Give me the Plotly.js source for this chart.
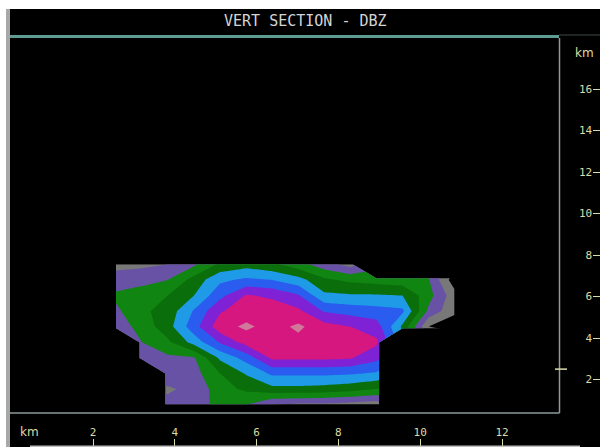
<!DOCTYPE html>
<html>
<head>
<meta charset="utf-8">
<script src="https://cdn.plot.ly/plotly-3.0.1.min.js"></script>
<style>
html,body{margin:0;padding:0;background:#000;}
#chart{width:600px;height:447px;}
</style>
</head>
<body>
<div id="chart"></div>
<script>
// Horizontal grid positions (km) and heights (km) of the vertical section
const xKm = [2.56, 3.20, 3.83, 4.47, 5.11, 5.75, 6.38, 7.02, 7.66, 8.29, 8.93, 9.57, 10.20, 10.84];
const yKm = [0.79, 1.54, 2.29, 3.04, 3.79, 4.55, 5.30, 6.05, 6.80, 7.55];

// Reflectivity (dBZ) per height row, null = no data
const dbz_h0_79 = [null, null, 11, 12, 17, 15, 10, 9, 9, 8, 7, null, null, null];
const dbz_h1_54 = [null, null, 9.5, 11, 18, 21, 23.5, 23.5, 23, 22, 20, null, null, null];
const dbz_h2_29 = [null, null, 12, 13, 20, 25.5, 31, 31, 31, 30.5, 29.5, null, null, null];
const dbz_h3_04 = [null, 12, 14, 14.5, 26, 32, 41, 41, 41, 40.5, 36.5, null, null, null];
const dbz_h3_79 = [null, 15, 19, 27, 35.5, 42, 43.5, 43.5, 43, 42, 41, null, null, null];
const dbz_h4_55 = [12, 17, 23, 33, 43, 46, 43, 46, 42, 40, 37.5, 24, 5, 2];
const dbz_h5_30 = [14, 19, 22, 30.5, 39.5, 42.5, 43, 41, 34.5, 33, 32, 31, 14, 6];
const dbz_h6_05 = [16, 18, 20, 25, 33.5, 40.5, 39, 35.5, 26, 25.5, 25.5, 25, 17, 7];
const dbz_h6_80 = [12, 13, 15, 22, 29, 31, 30, 27, 21, 19, 18, 17, 15.5, 2];
const dbz_h7_55 = [8.7, 9, 10, 14, 21, 23, 21, 17, 12, 8, null, null, null, null];

// Contour levels and band colours (below first level -> black)
const dbzLevels = [5, 10, 15, 20, 25, 30, 35, 40, 45];
const bandColors = ['#000000', '#787878', '#6752a6', '#118511', '#0a6f0a',
                    '#1f9ae6', '#2b5cf0', '#7f22d6', '#d5177f', '#d0789a'];

// Axis ticks
const xTickVals = [2, 4, 6, 8, 10, 12];
const yTickVals = [2, 4, 6, 8, 10, 12, 14, 16];

const z = [dbz_h0_79, dbz_h1_54, dbz_h2_29, dbz_h3_04, dbz_h3_79,
           dbz_h4_55, dbz_h5_30, dbz_h6_05, dbz_h6_80, dbz_h7_55];

// mask cells that touch a missing point
const maskZ = [];
for (let j = 0; j < yKm.length - 1; j++) {
  const row = [];
  for (let i = 0; i < xKm.length - 1; i++) {
    const miss = z[j][i] === null || z[j][i+1] === null || z[j+1][i] === null || z[j+1][i+1] === null;
    row.push(miss ? 1 : null);
  }
  maskZ.push(row);
}

const nb = bandColors.length;
const colorscale = bandColors.map((c, k) => [k / (nb - 1), c]);
const step = dbzLevels[1] - dbzLevels[0];

const contour = {
  type: 'contour',
  x: xKm, y: yKm, z: z,
  contours: {start: dbzLevels[0], end: dbzLevels[dbzLevels.length - 1], size: step, coloring: 'fill', showlines: false},
  line: {width: 0, smoothing: 0},
  colorscale: colorscale,
  showscale: false,
  hoverinfo: 'skip'
};
const mask = {
  type: 'heatmap',
  x: xKm, y: yKm, z: maskZ,
  colorscale: [[0, '#000000'], [1, '#000000']],
  zmin: 0, zmax: 1, showscale: false, hoverinfo: 'skip', zsmooth: false
};

const W = 600, H = 447;
const PX = v => v / W;
const PY = v => 1 - v / H;
const tickCol = '#dcdca6';

const layout = {
  width: W, height: H,
  margin: {l: 0, r: 0, t: 0, b: 0, pad: 0},
  paper_bgcolor: '#000000', plot_bgcolor: '#000000',
  showlegend: false,
  xaxis: {
    range: [-0.274, 14.396],
    tickvals: xTickVals, ticktext: xTickVals.map(String),
    ticks: 'inside', ticklen: 8, tickwidth: 1, tickcolor: tickCol,
    ticklabelposition: 'inside',
    tickfont: {family: 'DejaVu Sans Mono', size: 11, color: tickCol},
    showgrid: false, zeroline: false, showline: false, fixedrange: true
  },
  yaxis: {
    range: [-1.253, 20.289], side: 'right',
    tickvals: yTickVals, ticktext: yTickVals.map(String),
    ticks: 'inside', ticklen: 7, tickwidth: 1, tickcolor: tickCol,
    ticklabelposition: 'inside',
    tickfont: {family: 'DejaVu Sans Mono', size: 11, color: tickCol},
    showgrid: false, zeroline: false, showline: false, fixedrange: true
  },
  shapes: [
    {type: 'rect', xref: 'paper', yref: 'paper', x0: 0, x1: 1, y0: PY(9), y1: 1, fillcolor: '#ffffff', line: {width: 0}},
    {type: 'rect', xref: 'paper', yref: 'paper', x0: 0, x1: PX(6), y0: 0, y1: 1, fillcolor: '#ffffff', line: {width: 0}},
    {type: 'rect', xref: 'paper', yref: 'paper', x0: PX(6), x1: PX(10), y0: 0, y1: PY(9), fillcolor: '#a8a8a8', line: {width: 0}},
    {type: 'line', xref: 'paper', yref: 'paper', x0: PX(10), x1: PX(559), y0: PY(36.5), y1: PY(36.5), line: {color: '#5e9c92', width: 3}},
    {type: 'line', xref: 'paper', yref: 'paper', x0: PX(559), x1: 1, y0: PY(35), y1: PY(35), line: {color: '#3c4646', width: 1}},
    {type: 'line', xref: 'paper', yref: 'paper', x0: PX(559.5), x1: PX(559.5), y0: PY(38), y1: PY(413), line: {color: '#8e9a9a', width: 1.5}},
    {type: 'line', xref: 'paper', yref: 'paper', x0: PX(10), x1: PX(559.5), y0: PY(413), y1: PY(413), line: {color: '#8e9a9a', width: 1.5}},
    {type: 'line', xref: 'paper', yref: 'y', x0: PX(555), x1: PX(567), y0: 2.5, y1: 2.5, line: {color: tickCol, width: 1.5}},
    {type: 'line', xref: 'paper', yref: 'paper', x0: PX(30), x1: PX(580), y0: PY(446.3), y1: PY(446.3), line: {color: '#bdbdbd', width: 1.5}}
  ],
  annotations: [
    {text: 'VERT SECTION - DBZ', xref: 'paper', yref: 'paper', x: PX(305), y: PY(21.5), showarrow: false,
     xanchor: 'center', yanchor: 'middle', font: {family: 'DejaVu Sans Mono', size: 15, color: '#d4d4d4'}},
    {text: 'km', xref: 'paper', yref: 'paper', x: PX(584), y: PY(53), showarrow: false,
     xanchor: 'center', yanchor: 'middle', font: {family: 'DejaVu Sans', size: 12, color: tickCol}},
    {text: 'km', xref: 'paper', yref: 'paper', x: PX(29), y: PY(432), showarrow: false,
     xanchor: 'center', yanchor: 'middle', font: {family: 'DejaVu Sans', size: 12, color: tickCol}}
  ]
};

Plotly.newPlot('chart', [contour, mask], layout, {staticPlot: true, displayModeBar: false});
</script>
</body>
</html>
